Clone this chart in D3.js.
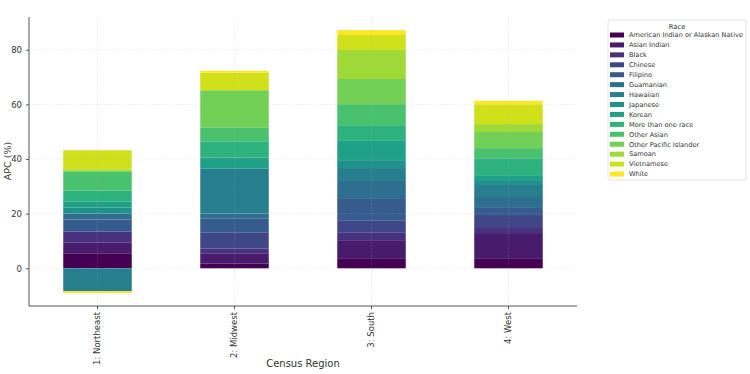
<!DOCTYPE html>
<html><head><meta charset="utf-8">
<script src="https://cdn.jsdelivr.net/npm/d3@7"></script>
<style>body{margin:0;background:#fff}svg{display:block;font-family:"DejaVu Sans",sans-serif}</style>
</head><body><svg id="c" width="750" height="374"></svg>
<script>
const regions = ["1: Northeast", "2: Midwest", "3: South", "4: West"];
const races = ["American Indian or Alaskan Native","Asian Indian","Black","Chinese","Filipino","Guamanian","Hawaiian","Japanese","Korean","More than one race","Other Asian","Other Pacific Islander","Samoan","Vietnamese","White"];
// values per race, in region order
const americanIndian = [5.5, 1.8, 3.7, 3.7];
const asianIndian    = [4.0, 3.7, 6.6, 9.2];
const black          = [4.0, 1.8, 2.9, 2.2];
const chinese        = [0.0, 5.9, 4.4, 4.4];
const filipino       = [4.4, 5.1, 8.1, 2.6];
const guamanian      = [2.2, 1.8, 6.6, 4.0];
const hawaiian       = [-8.4, 16.5, 4.4, 4.4];
const japanese       = [2.2, 0.0, 2.9, 1.8];
const korean         = [2.2, 4.0, 7.3, 1.8];
const moreThanOne    = [4.0, 5.9, 5.5, 6.2];
const otherAsian     = [7.0, 5.1, 7.7, 3.7];
const otherPacific   = [0.0, 13.6, 9.2, 5.9];
const samoan         = [0.7, 0.0, 10.6, 2.9];
const vietnamese     = [7.0, 6.4, 5.5, 7.0];
const white          = [-0.7, 0.7, 1.8, 1.5];
const yTicks = [0, 20, 40, 60, 80];

const series = [americanIndian, asianIndian, black, chinese, filipino, guamanian, hawaiian, japanese, korean, moreThanOne, otherAsian, otherPacific, samoan, vietnamese, white];
const table = regions.map((r, i) => { const o = {region: r}; races.forEach((k, j) => o[k] = series[j][i]); return o; });

const svg = d3.select("#c");
const L = 29, R = 577, T = 17, B = 306;
const x = d3.scaleBand().domain(regions).range([L, R]).paddingInner(0.5).paddingOuter(0.25);
const y = d3.scaleLinear().domain([-13.8, 92.0]).range([B, T]);
const color = d3.scaleOrdinal().domain(races).range(races.map((_, i) => d3.interpolateViridis(i / 14)));

const stack = d3.stack().keys(races).offset(d3.stackOffsetDiverging)(table);

svg.append("g").selectAll("g").data(stack).join("g").attr("fill", d => color(d.key))
  .selectAll("rect").data(d => d).join("rect")
  .attr("x", d => x(d.data.region)).attr("width", x.bandwidth())
  .attr("y", d => y(Math.max(d[0], d[1]))).attr("height", d => Math.abs(y(d[0]) - y(d[1])));

// grid
const grid = svg.append("g").attr("stroke", "#b0b0b0").attr("stroke-opacity", 0.3).attr("stroke-dasharray", "1.5,1.5").attr("stroke-width", 0.8);
grid.selectAll(".h").data(yTicks).join("line").attr("x1", L).attr("x2", R).attr("y1", d => y(d)).attr("y2", d => y(d));
grid.selectAll(".v").data(regions).join("line").attr("y1", T).attr("y2", B).attr("x1", d => x(d) + x.bandwidth()/2).attr("x2", d => x(d) + x.bandwidth()/2);

// axes
const yAx = svg.append("g").attr("transform", `translate(${L},0)`).call(d3.axisLeft(y).tickValues(yTicks).tickSize(3).tickPadding(4));
yAx.select(".domain").attr("d", `M0,${T}V${B}`);
const xAx = svg.append("g").attr("transform", `translate(0,${B})`).call(d3.axisBottom(x).tickSize(3).tickPadding(3));
xAx.select(".domain").attr("d", `M${L},0H${R}`);
[yAx, xAx].forEach(a => { a.selectAll("path,line").attr("stroke", "#555"); a.selectAll("text").attr("fill", "#333").attr("font-size", 8.5).attr("font-family", "DejaVu Sans"); });
xAx.selectAll("text").attr("transform", "rotate(-90)").attr("text-anchor", "end").attr("dy", "0.35em").attr("x", -6).attr("y", 0);

svg.append("text").attr("x", 303).attr("y", 367).attr("text-anchor", "middle").attr("font-size", 10).attr("fill", "#333").text("Census Region");
svg.append("text").attr("transform", "translate(8,161) rotate(-90)").attr("text-anchor", "middle").attr("dy", "0.35em").attr("font-size", 9.5).attr("fill", "#333").text("APC (%)");

// legend
const lg = svg.append("g");
lg.append("rect").attr("x", 608).attr("y", 20).attr("width", 138).attr("height", 160).attr("fill", "#fff").attr("stroke", "#ddd").attr("stroke-width", 0.8).attr("rx", 2);
lg.append("text").attr("x", 677).attr("y", 28.5).attr("text-anchor", "middle").attr("font-size", 6.8).attr("fill", "#333").text("Race");
const it = lg.selectAll(".it").data(races).join("g").attr("transform", (d, i) => `translate(610,${35 + i * 9.93})`);
it.append("rect").attr("x", 0).attr("y", -2.5).attr("width", 14).attr("height", 5).attr("fill", d => color(d));
it.append("text").attr("x", 19).attr("y", 0).attr("dy", "0.35em").attr("font-size", 6.6).attr("fill", "#333").text(d => d);
</script></body></html>
